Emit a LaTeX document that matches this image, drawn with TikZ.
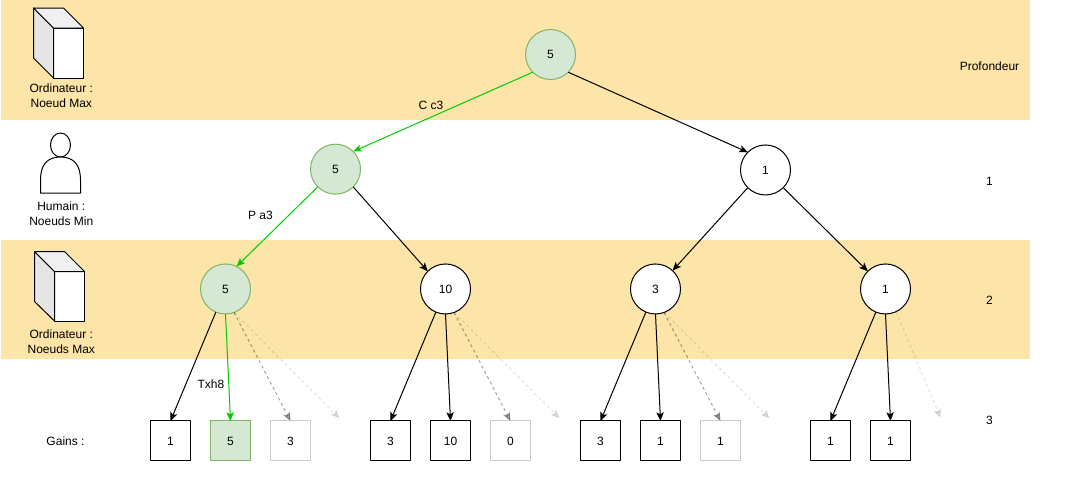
\documentclass[tikz,border=0pt]{standalone}
\usepackage{fontspec}
\setmainfont{Liberation Sans}
\usetikzlibrary{positioning,arrows.meta}

\definecolor{bandcol}{HTML}{FDE4A9}
\definecolor{greenfill}{HTML}{D5E8D4}
\definecolor{greenline}{HTML}{82B366}
\definecolor{greenedge}{HTML}{00CC00}

\tikzset{
    every node/.style={font=\fontsize{9}{11.25}\selectfont, inner sep=0pt, outer sep=0pt},
    band/.style={fill=bandcol},
    etat/.style={circle, draw, line width=0.75pt, fill=white, minimum size=37.5pt},
    feuille/.style={rectangle, draw, line width=0.75pt, fill=white, minimum size=30pt},
    elague/.style={feuille, draw=black!20},
    choix/.style={fill=greenfill, draw=greenline},
    arete/.style={line width=0.75pt, -{Stealth[length=6.5pt, width=5.5pt, inset=1.5pt]}},
    aretechoix/.style={arete, draw=greenedge, color=greenedge},
    coupe/.style={arete, dash pattern=on 2.25pt off 2.25pt, opacity=0.36},
    coupefin/.style={arete, dash pattern=on 2.25pt off 2.25pt, opacity=0.12},
    texte/.style={align=center},
}

\begin{document}
\begin{tikzpicture}[x=0.75pt, y=-0.75pt, on grid, line join=round]
    \useasboundingbox (0,0) rectangle (1090,501);
    \fill[band] (1,0) rectangle (1030,120);
    \fill[band] (1,240) rectangle (1030,359);

    % arbre
    \node [etat, choix] (r) at (550.5,54.5) {5};
    \node [etat, choix, below left=86pt and 161.25pt of r] (g) {5};
    \node [etat, below right=86.6pt and 161.25pt of r] (d) {1};
    \node [etat, choix, below left=89.85pt and 82.5pt of g] (gg) {5};
    \node [etat, below right=89.85pt and 82.5pt of g] (gd) {10};
    \node [etat, below left=89.25pt and 82.5pt of d] (dg) {3};
    \node [etat, below right=89.25pt and 90pt of d] (dd) {1};

    % feuilles
    \node [feuille, below left=114pt and 41.25pt of gg] (f1) {1};
    \node [feuille, choix, right=45pt of f1] (f2) {5};
    \node [elague, right=45pt of f2] (f3) {3};
    \coordinate [above right=17pt and 36.75pt of f3] (c1);
    \node [feuille, below left=114pt and 41.25pt of gd] (f4) {3};
    \node [feuille, right=45pt of f4] (f5) {10};
    \node [elague, right=45pt of f5] (f6) {0};
    \coordinate [above right=17pt and 36.75pt of f6] (c2);
    \node [feuille, below left=114pt and 41.25pt of dg] (f7) {3};
    \node [feuille, right=45pt of f7] (f8) {1};
    \node [elague, right=45pt of f8] (f9) {1};
    \coordinate [above right=17pt and 36.75pt of f9] (c3);
    \node [feuille, below left=114pt and 41.25pt of dd] (f10) {1};
    \node [feuille, right=45pt of f10] (f11) {1};
    \coordinate [above right=17.5pt and 37.5pt of f11] (c4);

    \draw [aretechoix] (r.-135) -- (g.45);
    \draw [arete] (r.-45) -- (d.135);
    \draw [aretechoix] (g.-135) -- (gg.64);
    \draw [arete] (g.-45) -- (gd.135);
    \draw [arete] (d.-135) -- (dg.47);
    \draw [arete] (d.-45) -- (dd.135);

    \draw [arete] (gg) -- (f1.north);
    \draw [aretechoix] (gg.south) -- (f2.north);
    \draw [coupe] (gg.-70) -- (f3.north);
    \draw [coupefin] (gg.-70) -- (c1);
    \draw [arete] (gd) -- (f4.north);
    \draw [arete] (gd.south) -- (f5.north);
    \draw [coupe] (gd.-70) -- (f6.north);
    \draw [coupefin] (gd.-70) -- (c2);
    \draw [arete] (dg) -- (f7.north);
    \draw [arete] (dg.south) -- (f8.north);
    \draw [coupe] (dg.-70) -- (f9.north);
    \draw [coupefin] (dg.-70) -- (c3);
    \draw [arete] (dd) -- (f10.north);
    \draw [arete] (dd.south) -- (f11.north);
    \draw [coupefin] (dd.-65) -- (c4);

    % coups joues
    \node (l1) at (431,105.5) {C c3};
    \node (l2) at (260.5,215) {P a3};
    \node (l3) at (211,384) {Txh8};

    % profondeur
    \node (p0) at (989.5,66) {Profondeur};
    \node (p1) at (989.5,181) {1};
    \node (p2) at (989.5,300) {2};
    \node (p3) at (989.5,420) {3};

    % joueurs
    \draw [line width=0.75pt, fill=white] (53.5,28) rectangle (83.5,78);
    \draw [line width=0.75pt, fill=black!10] (33.5,8) -- (53.5,28) -- (53.5,78) -- (33.5,58) -- cycle;
    \draw [line width=0.75pt, fill=black!6] (33.5,8) -- (63.5,8) -- (83.5,28) -- (53.5,28) -- cycle;
    \node [texte] (t1) at (61.3,96) {Ordinateur :\\Noeud Max};

    \draw [line width=0.75pt, fill=white] (60.5,145) ellipse (10 and 12);
    \draw [line width=0.75pt, fill=white] (40.5,193) -- (40.5,180) .. controls (40.5,165) and (47,157) .. (60.5,157) .. controls (74,157) and (80.5,165) .. (80.5,180) -- (80.5,193) -- cycle;
    \node [texte] (t2) at (61.3,214) {Humain :\\Noeuds Min};

    \draw [line width=0.75pt, fill=white] (54.5,271.5) rectangle (84.5,321);
    \draw [line width=0.75pt, fill=black!10] (34.5,251.5) -- (54.5,271.5) -- (54.5,321) -- (34.5,301.5) -- cycle;
    \draw [line width=0.75pt, fill=black!6] (34.5,251.5) -- (64.5,251.5) -- (84.5,271.5) -- (54.5,271.5) -- cycle;
    \node [texte] (t3) at (61.3,342) {Ordinateur :\\Noeuds Max};

    \node (t4) at (65.5,441.5) {Gains :};
\end{tikzpicture}
\end{document}
